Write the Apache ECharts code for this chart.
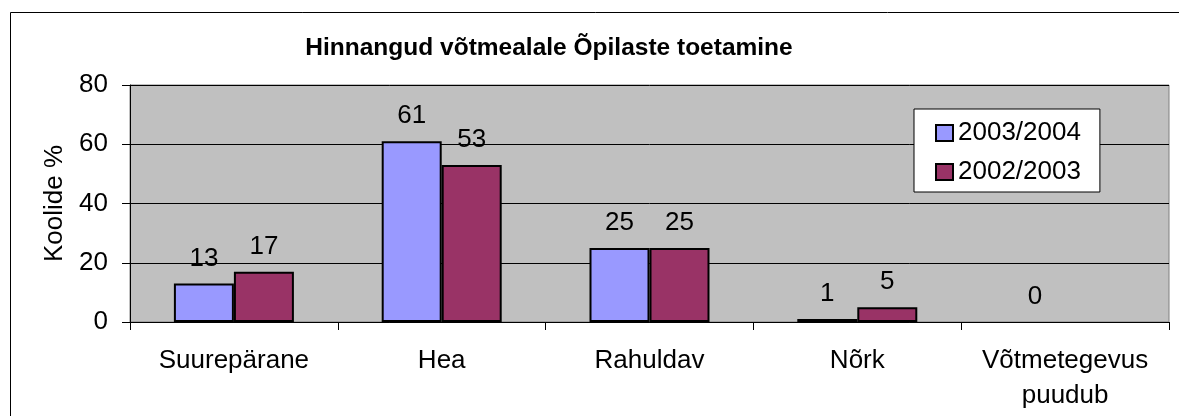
<!DOCTYPE html>
<html>
  <head>
    <meta charset="utf-8" />
    <style>
      html, body {margin: 0; padding: 0; background: #fff;}
      #chart {width: 1179px; height: 416px;}
    </style>
    <script src="https://cdn.jsdelivr.net/npm/echarts@6.0.0/dist/echarts.min.js"></script>
  </head>
  <body>
    <div id="chart"></div>
    <script type="text/javascript">
      var categories = ['Suurepärane', 'Hea', 'Rahuldav', 'Nõrk', 'Võtmetegevus\npuudub'];
      var data2003_2004 = [13, 61, 25, 1, 0];
      var data2002_2003 = [17, 53, 25, 5, null];
      var yTicks = [0, 20, 40, 60, 80];

      var chart = echarts.init(document.getElementById('chart'));
      var font = 'Liberation Sans, Arial, sans-serif';

      // zero-height bars get no outline (Excel draws nothing there)
      function barData(arr) {
        return arr.map(function (v) {
          return v === 0 ? {value: v, itemStyle: {borderWidth: 0}} : v;
        });
      }

      var option = {
        animation: false,
        textStyle: {fontFamily: font},
        title: {
          text: 'Hinnangud võtmealale Õpilaste toetamine',
          left: 544, top: 31, textAlign: 'center',
          textStyle: {fontFamily: font, fontSize: 24.5, fontWeight: 'bold', color: '#000'}
        },
        graphic: [{
          type: 'rect', left: 8, top: 10, silent: true,
          shape: {width: 1200, height: 430},
          style: {fill: 'none', stroke: '#000', lineWidth: 1}
        }],
        legend: {
          orient: 'vertical',
          left: 914, top: 109,
          backgroundColor: '#fff',
          borderColor: '#000', borderWidth: 1,
          padding: [11, 19, 7, 21],
          itemWidth: 17, itemHeight: 16, itemGap: 13,
          icon: 'rect',
          textStyle: {fontFamily: font, fontSize: 26, color: '#000'},
          data: ['2003/2004', '2002/2003']
        },
        grid: {
          left: 130, right: 10, top: 85, bottom: 94,
          show: true, backgroundColor: '#c0c0c0',
          borderColor: '#808080', borderWidth: 1
        },
        xAxis: {
          type: 'category',
          data: categories,
          axisLine: {lineStyle: {color: '#000', width: 1}},
          axisTick: {show: true, length: 8, lineStyle: {color: '#000'}},
          axisLabel: {fontFamily: font, fontSize: 26, color: '#000', margin: 21, lineHeight: 35, interval: 0},
          splitLine: {show: false}
        },
        yAxis: {
          type: 'value',
          min: yTicks[0], max: yTicks[yTicks.length - 1], interval: 20,
          name: 'Koolide %',
          nameLocation: 'middle', nameGap: 62,
          nameTextStyle: {fontFamily: font, fontSize: 26, color: '#000'},
          axisLine: {show: true, lineStyle: {color: '#000'}},
          axisTick: {show: true, length: 8, lineStyle: {color: '#000'}},
          axisLabel: {fontFamily: font, fontSize: 26, color: '#000', margin: 22},
          splitLine: {show: true, lineStyle: {color: '#000', width: 1}}
        },
        series: [
          {
            name: '2003/2004',
            type: 'bar',
            barWidth: 60,
            barGap: '0%',
            data: barData(data2003_2004),
            itemStyle: {color: '#9999ff', borderColor: '#000', borderWidth: 2},
            label: {show: true, position: 'top', distance: 12, fontFamily: font, fontSize: 26, color: '#000'}
          },
          {
            name: '2002/2003',
            type: 'bar',
            barWidth: 60,
            barGap: '0%',
            data: barData(data2002_2003),
            itemStyle: {color: '#993366', borderColor: '#000', borderWidth: 2},
            label: {show: true, position: 'top', distance: 12, fontFamily: font, fontSize: 26, color: '#000'}
          }
        ]
      };

      chart.setOption(option);
    </script>
  </body>
</html>
